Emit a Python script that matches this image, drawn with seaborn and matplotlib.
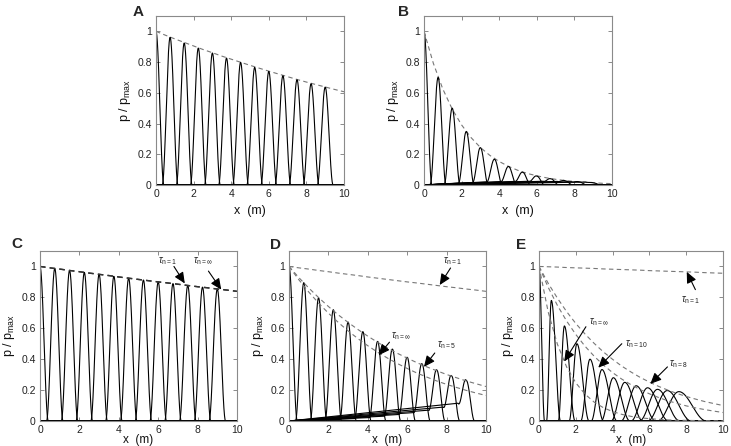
import numpy as np
import pandas as pd
import matplotlib
matplotlib.use("Agg")
import matplotlib.pyplot as plt
import seaborn as sns

# ---------------------------------------------------------------
# values
# ---------------------------------------------------------------
pos_reg = [0.0, 0.75, 1.5, 2.25, 3.0, 3.75, 4.5, 5.25, 6.0, 6.75, 7.5, 8.25, 9.0]
pos_E = [0.0, 0.67, 1.38, 2.06, 2.77, 3.42, 4.04, 4.66, 5.28, 5.9, 6.44, 6.97, 7.6]

peak_A = [1.0, 0.961, 0.924, 0.891, 0.859, 0.826, 0.798, 0.765, 0.739, 0.711, 0.685, 0.659, 0.637]
peak_B = [1.0, 0.70, 0.50, 0.348, 0.243, 0.167, 0.12, 0.083, 0.058, 0.04, 0.028, 0.02, 0.014]
peak_C = [1.0, 0.987, 0.974, 0.961, 0.949, 0.936, 0.924, 0.912, 0.900, 0.889, 0.877, 0.866, 0.854]
peak_D = [1.0, 0.895, 0.797, 0.72, 0.64, 0.578, 0.515, 0.465, 0.412, 0.37, 0.33, 0.292, 0.262]
peak_E = [1.0, 0.78, 0.615, 0.5, 0.4, 0.333, 0.28, 0.25, 0.228, 0.215, 0.205, 0.197, 0.19]

# low "wake" ramps in front of the pulses (B and D)
wake_B = [0, 0.004, 0.008, 0.012, 0.016, 0.02, 0.022, 0.024, 0.025, 0.025, 0.024, 0.022, 0.02]
wake_D = [0, 0.0005, 0.002, 0.005, 0.009, 0.015, 0.022, 0.031, 0.042, 0.055, 0.07, 0.09, 0.115]

# half base widths of the pulses (m); E pulses spread and lean
half_reg = 0.42
half_E_left = [0.12, 0.26, 0.33, 0.42, 0.5, 0.58, 0.66, 0.74, 0.82, 0.9, 0.98, 1.06, 1.15]
half_E_right = [0.3, 0.5, 0.58, 0.66, 0.74, 0.82, 0.9, 0.98, 1.06, 1.14, 1.22, 1.3, 1.5]

# dashed envelopes
env_x = [0, 0.5, 1, 1.5, 2, 2.5, 3, 3.5, 4, 4.5, 5, 5.5, 6, 6.5, 7, 7.5, 8, 8.5, 9, 9.5, 10]
env_A = [1.0, 0.975, 0.951, 0.928, 0.905, 0.882, 0.861, 0.839, 0.819, 0.799, 0.779,
         0.760, 0.741, 0.723, 0.705, 0.687, 0.670, 0.654, 0.638, 0.622, 0.607]
env_B = [1.0, 0.791, 0.625, 0.494, 0.391, 0.309, 0.244, 0.193, 0.153, 0.121, 0.095,
         0.075, 0.060, 0.047, 0.037, 0.029, 0.023, 0.018, 0.015, 0.011, 0.009]
env_tau1 = [1.0, 0.991, 0.983, 0.974, 0.966, 0.957, 0.949, 0.941, 0.932, 0.924, 0.916,
            0.908, 0.900, 0.893, 0.885, 0.877, 0.869, 0.862, 0.854, 0.847, 0.839]
env_D5 = [1.0, 0.928, 0.861, 0.799, 0.741, 0.687, 0.638, 0.592, 0.549, 0.509, 0.472,
          0.438, 0.407, 0.377, 0.350, 0.325, 0.301, 0.280, 0.259, 0.241, 0.223]
env_Dinf = [1.0, 0.914, 0.835, 0.763, 0.698, 0.638, 0.583, 0.533, 0.487, 0.445, 0.407,
            0.372, 0.340, 0.310, 0.284, 0.259, 0.237, 0.217, 0.198, 0.181, 0.165]
env_E1 = [1.0, 0.998, 0.996, 0.993, 0.991, 0.989, 0.987, 0.984, 0.982, 0.980, 0.978,
          0.976, 0.973, 0.971, 0.969, 0.967, 0.965, 0.963, 0.960, 0.958, 0.956]
env_E8 = [1.0, 0.891, 0.795, 0.708, 0.631, 0.563, 0.502, 0.447, 0.399, 0.355, 0.317,
          0.282, 0.252, 0.224, 0.200, 0.178, 0.159, 0.142, 0.126, 0.113, 0.100]
env_E10 = [1.0, 0.865, 0.748, 0.647, 0.560, 0.484, 0.419, 0.362, 0.313, 0.271, 0.235,
           0.203, 0.176, 0.152, 0.131, 0.114, 0.098, 0.085, 0.074, 0.064, 0.055]
env_Einf = [1.0, 0.705, 0.497, 0.350, 0.247, 0.174, 0.122, 0.086, 0.061, 0.043, 0.030,
            0.021, 0.015, 0.011, 0.007, 0.005, 0.004, 0.003, 0.002, 0.001, 0.001]

ytick_vals = [0, 0.2, 0.4, 0.6, 0.8, 1.0]
ytick_labels = ["0", "0.2", "0.4", "0.6", "0.8", "1"]
xtick_vals = [0, 2, 4, 6, 8, 10]


def pulse_frame(pos, peaks, half_l=None, half_r=None, wake=None):
    xs = np.linspace(0, 10, 2001)
    parts = []
    for i, (p, h) in enumerate(zip(pos, peaks)):
        ll = half_reg if half_l is None else half_l[i]
        lr = half_reg if half_r is None else half_r[i]
        u = (xs - p) / np.where(xs < p, ll, lr)
        y = np.where(np.abs(u) < 1, h * np.cos(np.pi * u / 2) ** 2, 0.0)
        if wake is not None and p > 0:
            # straight ramp from the origin up to the foot of the pulse
            a = p - ll
            ramp = np.where(xs <= a, wake[i] * xs / a,
                            np.where(xs < p, wake[i] * (p - xs) / (p - a), 0.0))
            y = y + ramp
        parts.append(pd.DataFrame({"x": xs, "y": y, "pulse": i}))
    return pd.concat(parts, ignore_index=True)


def env_frame(*envs):
    parts = [pd.DataFrame({"x": env_x, "y": e, "curve": k}) for k, e in enumerate(envs)]
    return pd.concat(parts, ignore_index=True)


def style(ax, letter, lx, ly, bottom_row=False):
    ax.set_xlim(0, 10)
    ax.set_ylim(0, 1.1)
    ax.set_xticks(xtick_vals)
    ax.set_xticklabels([str(v) for v in xtick_vals])
    ax.set_yticks(ytick_vals)
    ax.set_yticklabels(ytick_labels)
    ax.tick_params(direction="in", top=True, right=True, length=3, width=0.6,
                   labelsize=7.5, color="#777777", labelcolor="#222222", pad=3)
    for s in ax.spines.values():
        s.set_color("#8a8a8a")
        s.set_linewidth(0.8)
    if bottom_row:
        # the label sits right at the lower edge of the figure
        ax.set_xlabel("x  (m)", fontsize=8.5, color="#111111")
        ax.xaxis.set_label_coords(0.5, -0.075)
    else:
        ax.set_xlabel("x  (m)", fontsize=9, color="#111111", labelpad=4)
    ax.set_ylabel(r"p / p$_{\rm max}$", fontsize=9, color="#111111", labelpad=3)
    ax.text(lx, ly, letter, transform=ax.transAxes, ha="center", va="center",
            fontsize=11, fontweight="bold")


def arrow(ax, label, text_xy, tail, tip):
    ax.text(text_xy[0], text_xy[1], label, fontsize=7, color="#222222")
    ax.annotate("", xy=tip, xytext=tail,
                arrowprops=dict(arrowstyle="-|>,head_length=0.55,head_width=0.25",
                                color="k", lw=0.8, shrinkA=0, shrinkB=0,
                                mutation_scale=12))


sns.set_style("ticks")
plt.rcParams["font.family"] = ["Liberation Sans", "DejaVu Sans"]
plt.rcParams["mathtext.fontset"] = "custom"
plt.rcParams["mathtext.rm"] = "Liberation Sans"
plt.rcParams["mathtext.it"] = "Liberation Sans:italic"

W, H = 731, 446
fig = plt.figure(figsize=(W / 100, H / 100), dpi=100)


def box(l, r, t, b):
    return [l / W, 1 - b / H, (r - l) / W, (b - t) / H]


axA = fig.add_axes(box(156, 344, 16, 185))
axB = fig.add_axes(box(424, 612, 16, 185))
axC = fig.add_axes(box(40, 237, 251, 421))
axD = fig.add_axes(box(289, 486, 251, 421))
axE = fig.add_axes(box(539, 723, 251, 421))

line_kw = dict(x="x", y="y", estimator=None, color="black", linewidth=0.8, legend=False)
dash_kw = dict(x="x", y="y", units="curve", estimator=None, legend=False,
               linestyle=(0, (4, 3)))

# A
sns.lineplot(data=env_frame(env_A), ax=axA, color="#777777", linewidth=0.8, **dash_kw)
sns.lineplot(data=pulse_frame(pos_reg, peak_A), ax=axA, units="pulse", **line_kw)
style(axA, "A", -0.095, 1.025)

# B
sns.lineplot(data=env_frame(env_B), ax=axB, color="#777777", linewidth=0.8, **dash_kw)
sns.lineplot(data=pulse_frame(pos_reg, peak_B, wake=wake_B), ax=axB, units="pulse", **line_kw)
style(axB, "B", -0.11, 1.025)

# C
sns.lineplot(data=pulse_frame(pos_reg, peak_C), ax=axC, units="pulse", **line_kw)
sns.lineplot(data=env_frame(env_tau1, env_tau1), ax=axC, color="#333333", linewidth=1.0, **dash_kw)
style(axC, "C", -0.117, 1.04, bottom_row=True)
arrow(axC, r"$\tau_{\rm n=1}$", (6.0, 1.02), (6.8, 1.0), (7.35, 0.89))
arrow(axC, r"$\tau_{\rm n=\infty}$", (7.75, 1.02), (8.55, 0.97), (9.2, 0.85))

# D
sns.lineplot(data=pulse_frame(pos_reg, peak_D, wake=wake_D), ax=axD, units="pulse", **line_kw)
sns.lineplot(data=env_frame(env_tau1, env_D5, env_Dinf), ax=axD, color="#777777",
             linewidth=0.8, **dash_kw)
style(axD, "D", -0.066, 1.035, bottom_row=True)
arrow(axD, r"$\tau_{\rm n=1}$", (7.8, 1.02), (8.2, 0.99), (7.65, 0.88))
arrow(axD, r"$\tau_{\rm n=\infty}$", (5.2, 0.535), (5.1, 0.51), (4.55, 0.425))
arrow(axD, r"$\tau_{\rm n=5}$", (7.5, 0.475), (7.4, 0.44), (6.85, 0.35))

# E
sns.lineplot(data=pulse_frame(pos_E, peak_E, half_E_left, half_E_right), ax=axE,
             units="pulse", **line_kw)
sns.lineplot(data=env_frame(env_E1, env_E8, env_E10, env_Einf), ax=axE, color="#777777",
             linewidth=0.8, **dash_kw)
style(axE, "E", -0.10, 1.035, bottom_row=True)
arrow(axE, r"$\tau_{\rm n=1}$", (7.7, 0.77), (8.5, 0.85), (8.03, 0.965))
arrow(axE, r"$\tau_{\rm n=\infty}$", (2.7, 0.625), (2.55, 0.61), (1.37, 0.385))
arrow(axE, r"$\tau_{\rm n=10}$", (4.65, 0.485), (4.5, 0.5), (3.22, 0.345))
arrow(axE, r"$\tau_{\rm n=8}$", (7.05, 0.355), (6.98, 0.35), (6.05, 0.24))

fig.savefig("out.png", dpi=100)
